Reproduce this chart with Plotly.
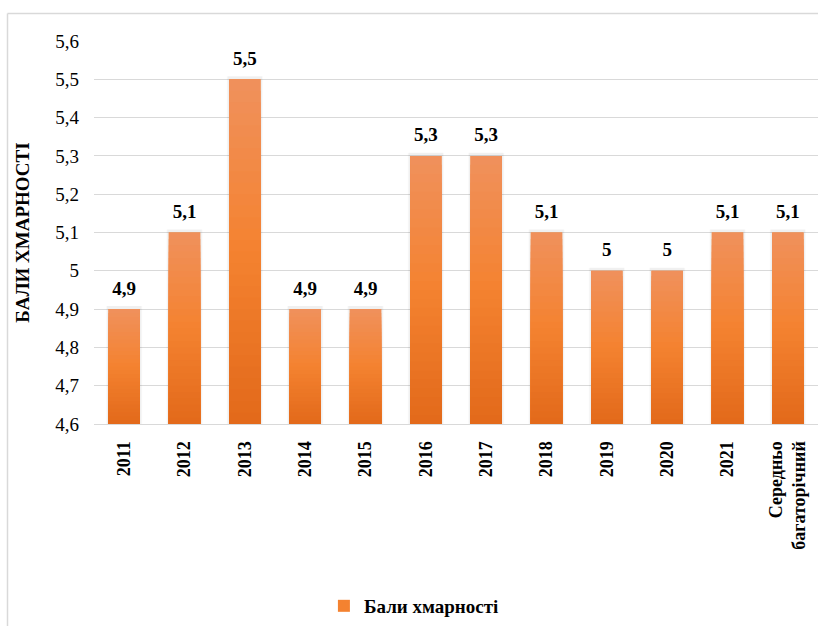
import plotly.graph_objects as go

categories = ["2011", "2012", "2013", "2014", "2015", "2016", "2017", "2018",
              "2019", "2020", "2021", "Середньо<br>багаторічний"]
values = [4.9, 5.1, 5.5, 4.9, 4.9, 5.3, 5.3, 5.1, 5.0, 5.0, 5.1, 5.1]
series_name = "Бали хмарності"
y_ticks = [4.6, 4.7, 4.8, 4.9, 5.0, 5.1, 5.2, 5.3, 5.4, 5.5, 5.6]

Y_MIN, Y_MAX = 4.6, 5.6
FONT = "Liberation Serif"
BAR_W = 0.52

# gradient stops (top -> bottom)
top_rgb = (240, 145, 92)
mid_rgb = (244, 130, 48)
bot_rgb = (226, 105, 26)


def grad(t):
    # t: 1 at top, 0 at bottom
    if t >= 0.5:
        a, b, u = mid_rgb, top_rgb, (t - 0.5) / 0.5
    else:
        a, b, u = bot_rgb, mid_rgb, t / 0.5
    c = [round(a[i] + (b[i] - a[i]) * u) for i in range(3)]
    return f"rgb({c[0]},{c[1]},{c[2]})"


fig = go.Figure()

# soft shadow behind bars
for w, op in [(0.60, 0.025), (0.57, 0.035)]:
    fig.add_trace(go.Bar(x=categories, y=[v + 0.008 for v in values], width=w,
                         marker=dict(color=f"rgba(0,0,0,{op})", line=dict(width=0)),
                         showlegend=False, hoverinfo="skip"))

# legend entry (covered by gradient bars)
fig.add_trace(go.Bar(x=categories, y=values, width=BAR_W, name=series_name,
                     marker=dict(color=grad(0.5), line=dict(width=0)),
                     showlegend=True))

N = 30
for k in range(N):
    frac = 1 - k / N
    tops = [Y_MIN + (v - Y_MIN) * frac for v in values]
    fig.add_trace(go.Bar(x=categories, y=tops, width=BAR_W,
                         marker=dict(color=grad(1 - (k + 0.5) / N), line=dict(width=0)),
                         showlegend=False, hoverinfo="skip"))

labels = [(f"{v:g}").replace(".", ",") for v in values]
fig.add_trace(go.Scatter(x=categories, y=values, mode="markers+text", text=labels,
                         textposition="top center",
                         marker=dict(size=14, opacity=0),
                         textfont=dict(family=FONT, size=19, color="#000000", weight="bold"),
                         showlegend=False, hoverinfo="skip", cliponaxis=False))

fig.update_layout(
    width=818, height=626,
    margin=dict(l=94, r=0, t=41, b=202),
    paper_bgcolor="white", plot_bgcolor="white",
    barmode="overlay",
    separators=", ",
    font=dict(family=FONT, size=16, color="#000000"),
    showlegend=True,
    legend=dict(orientation="h", xref="container", yref="container",
                x=0.506, xanchor="center", y=0.032, yanchor="middle",
                font=dict(family=FONT, size=19, color="#000000", weight="bold"),
                itemwidth=30),
    xaxis=dict(type="category", showgrid=False, showline=True, automargin=False,
               range=[-0.5, len(categories) - 0.5],
               linecolor="#D9D9D9", linewidth=1, tickangle=-90,
               tickfont=dict(family=FONT, size=18, color="#000000", weight="bold"),
               ticks="", ticklabelstandoff=9),
    yaxis=dict(range=[Y_MIN, Y_MAX], tickvals=y_ticks, automargin=False,
               showgrid=True, gridcolor="#D9D9D9", gridwidth=1,
               zeroline=False, showline=False, ticks="",
               ticklabelstandoff=14,
               tickfont=dict(family=FONT, size=19, color="#000000"),
               title=dict(text="БАЛИ ХМАРНОСТІ", standoff=20,
                          font=dict(family=FONT, size=19, color="#000000", weight="bold"))),
    shapes=[
        dict(type="line", xref="paper", yref="paper",
             x0=(7.5 - 94) / 724, x1=1.1, y0=(626 - 202 - 13.5) / 383, y1=(626 - 202 - 13.5) / 383,
             line=dict(color="#D9D9D9", width=1.5), layer="below"),
        dict(type="line", xref="paper", yref="paper",
             x0=(7.5 - 94) / 724, x1=(7.5 - 94) / 724,
             y0=(626 - 202 - 13.5) / 383, y1=-1.0,
             line=dict(color="#D9D9D9", width=1.5), layer="below"),
    ],
)

fig.write_html("out.html", config={"displayModeBar": False},
               post_script="document.body.style.margin='0';")
